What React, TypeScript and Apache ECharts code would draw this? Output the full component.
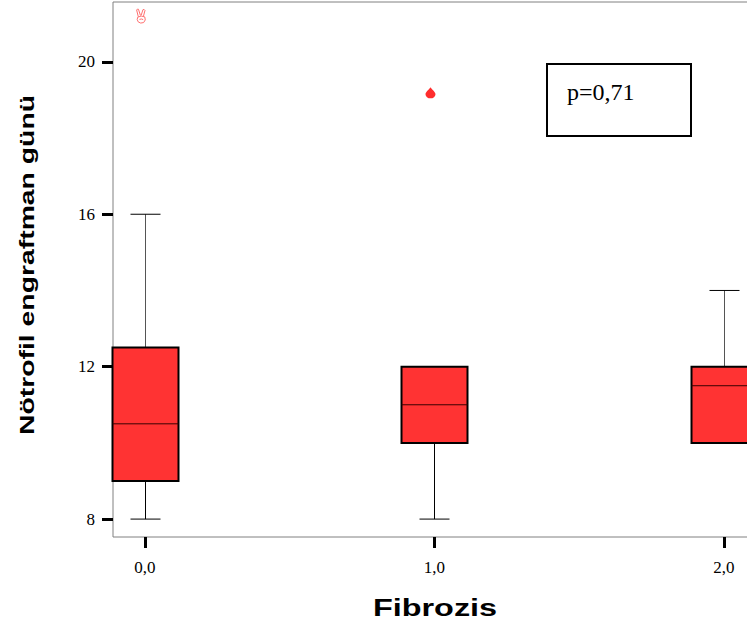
import React, { useEffect, useRef } from "react";
import * as echarts from "echarts";

const categories = ["0,0", "1,0", "2,0"];
const catPositions = [0, 1, 2];
const lowerWhisker = [8, 8, 10];
const q1 = [9, 10, 10];
const medians = [10.5, 11, 11.5];
const q3 = [12.5, 12, 12];
const upperWhisker = [16, 12, 14];
const outlierCat = [0, 1];
const outlierValues = [21.2, 19.2];
const outlierKinds = ["extreme", "outlier"];
const yTicks = [8, 12, 16, 20];
const pLabel = "p=0,71";
const xTitle = "Fibrozis";
const yTitle = "Nötrofil engraftman günü";

const BOX_W = 66;
const CAP_W = 30;
const DROP = "M5,0 C6,2 10,4.5 10,7 A5,4 0 0 1 0,7 C0,4.5 4,2 5,0 Z";
const HAND =
  "M2.5,7.5 L1,1.5 Q1.3,0.4 2.6,0.8 L4.4,6.4 M5,6.2 L6.6,1.2 Q7.8,0.6 8.4,1.8 L7,7.2 M2,7.8 Q5,6 8.2,7.6 Q9.6,10.5 7.2,12.6 Q4.4,13.8 2.4,12 Q0.8,10 2,7.8 Z M3.5,9.8 Q5.4,9 6.8,10";

export default function App() {
  const ref = useRef<HTMLDivElement>(null);
  useEffect(() => {
    if (!ref.current) return;
    const chart = echarts.init(ref.current, null, { renderer: "svg" });
    const boxData = catPositions.map((c, i) => [c, lowerWhisker[i], q1[i], medians[i], q3[i], upperWhisker[i]]);
    const outData = outlierCat.map((c, i) => [c, outlierValues[i], i]);

    const renderBox = (params: any, api: any) => {
      const x = api.value(0);
      const pLow = api.coord([x, api.value(1)]);
      const pQ1 = api.coord([x, api.value(2)]);
      const pMed = api.coord([x, api.value(3)]);
      const pQ3 = api.coord([x, api.value(4)]);
      const pHigh = api.coord([x, api.value(5)]);
      const cx = Math.round(pMed[0]) + 0.5;
      const children: any[] = [];
      const lineStyle = { stroke: "#000", lineWidth: 1 };
      if (pLow[1] - pQ1[1] > 0.5) {
        children.push({ type: "line", shape: { x1: cx, y1: pQ1[1], x2: cx, y2: pLow[1] }, style: lineStyle });
        children.push({ type: "line", shape: { x1: cx - CAP_W / 2, y1: pLow[1], x2: cx + CAP_W / 2, y2: pLow[1] }, style: lineStyle });
      }
      if (pQ3[1] - pHigh[1] > 0.5) {
        children.push({ type: "line", shape: { x1: cx, y1: pQ3[1], x2: cx, y2: pHigh[1] }, style: { stroke: "#555", lineWidth: 1 } });
        children.push({ type: "line", shape: { x1: cx - CAP_W / 2, y1: pHigh[1], x2: cx + CAP_W / 2, y2: pHigh[1] }, style: lineStyle });
      }
      children.push({
        type: "rect",
        shape: { x: cx - BOX_W / 2, y: pQ3[1], width: BOX_W, height: pQ1[1] - pQ3[1] },
        style: { fill: "#ff3333", stroke: "#000", lineWidth: 2 },
      });
      children.push({
        type: "line",
        shape: { x1: cx - BOX_W / 2, y1: pMed[1], x2: cx + BOX_W / 2, y2: pMed[1] },
        style: { stroke: "#3a0000", lineWidth: 1 },
      });
      return { type: "group", children };
    };

    const renderOutlier = (params: any, api: any) => {
      const x = api.value(0);
      const p = api.coord([x, api.value(1)]);
      const kind = outlierKinds[api.value(2)];
      const cx = p[0] - 4;
      if (kind === "extreme") {
        return {
          type: "path",
          shape: { pathData: HAND, x: cx - 4.5, y: p[1] - 7, width: 9, height: 14 },
          style: { fill: "none", stroke: "#ff7070", lineWidth: 1 },
        };
      }
      return {
        type: "path",
        shape: { pathData: DROP, x: cx - 5.5, y: p[1] - 5, width: 11, height: 11 },
        style: { fill: "#ff2d2d" },
      };
    };

    const option: any = {
      animation: false,
      backgroundColor: "#fff",
      grid: {
        left: 113,
        top: 2,
        width: (2.2 + 0.1105) * 289.5,
        height: 535,
        show: true,
        borderColor: "#808080",
        borderWidth: 1,
        backgroundColor: "transparent",
        outerBoundsMode: "none",
        containLabel: false,
      },
      xAxis: {
        type: "value",
        min: -0.1105,
        max: 2.2,
        axisLine: { show: false, onZero: false },
        splitLine: { show: false },
        axisTick: { show: true, customValues: catPositions, length: 11, lineStyle: { color: "#000", width: 3 } },
        axisLabel: {
          customValues: catPositions,
          formatter: (v: number) => categories[Math.round(v)] ?? "",
          margin: 22,
          fontFamily: "Liberation Serif",
          fontSize: 17,
          color: "#000",
        },
      },
      yAxis: {
        type: "value",
        min: 7.53,
        max: 21.57,
        axisLine: { show: false, onZero: false },
        splitLine: { show: false },
        axisTick: { show: true, customValues: yTicks, length: 11, lineStyle: { color: "#000", width: 3 } },
        axisLabel: {
          customValues: yTicks,
          margin: 18,
          fontFamily: "Liberation Serif",
          fontSize: 17,
          color: "#000",
        },
      },
      series: [
        {
          type: "custom",
          renderItem: renderBox,
          data: boxData,
          encode: { x: 0, y: [1, 2, 3, 4, 5] },
          clip: false,
        },
        {
          type: "custom",
          renderItem: renderOutlier,
          data: outData,
          encode: { x: 0, y: 1 },
          clip: false,
        },
      ],
      graphic: [
        {
          type: "rect",
          shape: { x: 547, y: 64, width: 144, height: 72 },
          style: { fill: "#fff", stroke: "#000", lineWidth: 2 },
        },
        {
          type: "text",
          x: 567,
          y: 92,
          style: {
            text: pLabel,
            fontFamily: "Liberation Serif",
            fontSize: 24,
            fill: "#000",
            textAlign: "left",
            textVerticalAlign: "middle",
          },
        },
        {
          type: "text",
          x: 435,
          y: 608,
          scaleX: 1.35,
          style: {
            text: xTitle,
            fontFamily: "Liberation Sans",
            fontWeight: "bold",
            fontSize: 24,
            fill: "#000",
            textAlign: "center",
            textVerticalAlign: "middle",
          },
        },
        {
          type: "text",
          x: 26,
          y: 265,
          rotation: Math.PI / 2,
          scaleX: 1.35,
          style: {
            text: yTitle,
            fontFamily: "Liberation Sans",
            fontWeight: "bold",
            fontSize: 21,
            fill: "#000",
            textAlign: "center",
            textVerticalAlign: "middle",
          },
        },
      ],
    };
    chart.setOption(option);
    return () => chart.dispose();
  }, []);
  return (
    <div
      ref={ref}
      style={{ position: "fixed", left: 0, top: 0, width: 747, height: 628, background: "#fff" }}
    />
  );
}
